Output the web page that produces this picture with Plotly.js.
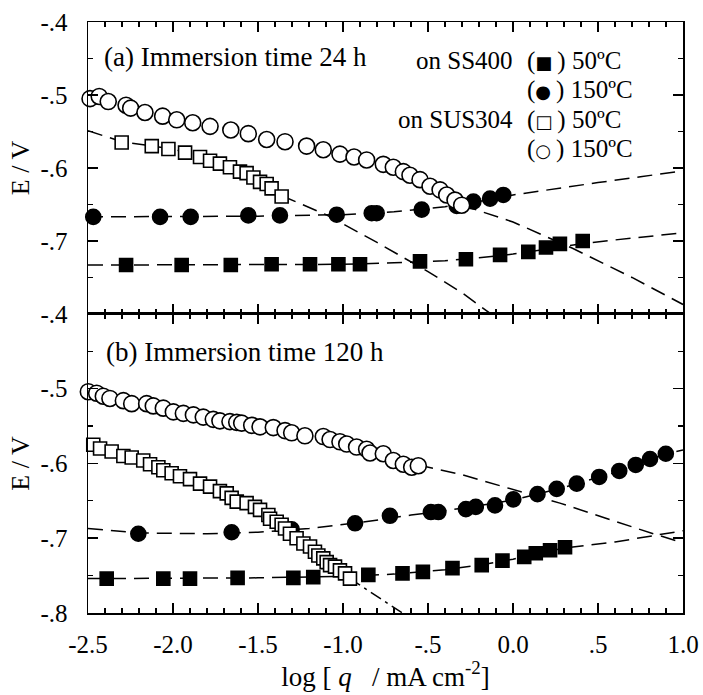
<!DOCTYPE html>
<html>
<head>
<meta charset="utf-8">
<script src="https://cdn.plot.ly/plotly-3.0.1.min.js"></script>
<style>
  html, body { margin: 0; padding: 0; background: #ffffff; }
  #chart { width: 703px; height: 695px; }
</style>
</head>
<body>
<div id="chart"></div>
<script>
// ---------- tick labels ----------
const xTickVals = [-2.5, -2.0, -1.5, -1.0, -0.5, 0.0, 0.5, 1.0];
const xTickText = ['-2.5', '-2.0', '-1.5', '-1.0', '-.5', '0.0', '.5', '1.0'];
const yTickValsTop = [-0.7, -0.6, -0.5, -0.4];
const yTickTextTop = ['-.7', '-.6', '-.5', '-.4'];
const yTickValsBot = [-0.8, -0.7, -0.6, -0.5, -0.4];
const yTickTextBot = ['-.8', '-.7', '-.6', '-.5', '-.4'];

// ---------- (a) Immersion time 24 h ----------
const a_ss400_50_x = [-2.276, -1.949, -1.660, -1.420, -1.194, -1.027, -0.900, -0.547, -0.277, -0.076, 0.090, 0.194, 0.276, 0.410];
const a_ss400_50_y = [-0.733, -0.733, -0.733, -0.732, -0.732, -0.732, -0.732, -0.728, -0.725, -0.719, -0.715, -0.709, -0.704, -0.700];

const a_ss400_150_x = [-2.469, -2.076, -1.896, -1.557, -1.371, -1.037, -0.831, -0.802, -0.537, -0.331, -0.233, -0.135, -0.057];
const a_ss400_150_y = [-0.667, -0.667, -0.667, -0.665, -0.665, -0.664, -0.662, -0.662, -0.657, -0.652, -0.646, -0.642, -0.637];

const a_sus304_50_x = [-2.302, -2.125, -2.027, -1.929, -1.841, -1.782, -1.724, -1.665, -1.606, -1.567, -1.527, -1.488, -1.449, -1.420, -1.361];
const a_sus304_50_y = [-0.565, -0.570, -0.574, -0.579, -0.585, -0.590, -0.594, -0.599, -0.605, -0.607, -0.613, -0.619, -0.622, -0.628, -0.639];

const a_sus304_150_x = [-2.488, -2.434, -2.381, -2.276, -2.249, -2.165, -2.061, -1.978, -1.884, -1.782, -1.660, -1.557, -1.449, -1.341, -1.214, -1.116, -1.018, -0.935, -0.861, -0.763, -0.704, -0.645, -0.606, -0.547, -0.488, -0.429, -0.390, -0.341, -0.302];
const a_sus304_150_y = [-0.505, -0.502, -0.509, -0.514, -0.518, -0.524, -0.529, -0.534, -0.538, -0.543, -0.548, -0.553, -0.561, -0.564, -0.570, -0.575, -0.581, -0.585, -0.589, -0.595, -0.599, -0.605, -0.610, -0.616, -0.625, -0.630, -0.637, -0.644, -0.651];

// fitted curves (a)
const fitA_ss400_50_x = [-2.5, -2.0, -1.5, -1.0, -0.7, -0.4, -0.2, 0.0, 0.2, 0.43, 0.7, 1.0];
const fitA_ss400_50_y = [-0.733, -0.733, -0.733, -0.732, -0.730, -0.727, -0.723, -0.718, -0.711, -0.703, -0.696, -0.689];
const fitA_ss400_150_x = [-2.5, -2.0, -1.5, -1.0, -0.7, -0.4, -0.2, 0.0, 0.25, 0.5, 0.75, 1.0];
const fitA_ss400_150_y = [-0.667, -0.667, -0.666, -0.664, -0.660, -0.653, -0.646, -0.637, -0.628, -0.620, -0.612, -0.604];
const fitA_sus304_50_x = [-2.5, -2.3, -2.0, -1.7, -1.5, -1.361, -1.1, -0.8, -0.5, -0.3, -0.13];
const fitA_sus304_50_y = [-0.549, -0.564, -0.574, -0.594, -0.613, -0.638, -0.664, -0.702, -0.742, -0.771, -0.800];
const fitA_sus304_150_x = [-0.30, 0.0, 0.35, 0.7, 1.0];
const fitA_sus304_150_y = [-0.651, -0.674, -0.710, -0.750, -0.787];

// ---------- (b) Immersion time 120 h ----------
const b_ss400_50_x = [-2.390, -2.057, -1.900, -1.620, -1.292, -1.175, -0.851, -0.650, -0.530, -0.356, -0.184, -0.062, 0.066, 0.134, 0.218, 0.306];
const b_ss400_50_y = [-0.754, -0.754, -0.754, -0.753, -0.753, -0.752, -0.749, -0.747, -0.745, -0.740, -0.736, -0.730, -0.725, -0.720, -0.716, -0.712];

const b_ss400_150_x = [-2.204, -1.655, -1.302, -0.929, -0.724, -0.483, -0.439, -0.277, -0.219, -0.106, 0.002, 0.144, 0.257, 0.375, 0.507, 0.625, 0.722, 0.806, 0.899];
const b_ss400_150_y = [-0.694, -0.692, -0.688, -0.680, -0.670, -0.665, -0.665, -0.661, -0.658, -0.656, -0.648, -0.641, -0.634, -0.627, -0.618, -0.610, -0.602, -0.594, -0.587];

const b_sus304_50_x = [-2.469, -2.429, -2.361, -2.292, -2.243, -2.175, -2.135, -2.086, -2.057, -2.008, -1.959, -1.900, -1.841, -1.782, -1.724, -1.684, -1.655, -1.625, -1.567, -1.518, -1.488, -1.439, -1.429, -1.390, -1.361, -1.341, -1.312, -1.273, -1.233, -1.194, -1.165, -1.145, -1.116, -1.096, -1.076, -1.047, -1.018, -0.988, -0.959];
const b_sus304_50_y = [-0.575, -0.580, -0.584, -0.590, -0.592, -0.596, -0.601, -0.605, -0.609, -0.613, -0.617, -0.621, -0.627, -0.631, -0.637, -0.640, -0.646, -0.651, -0.653, -0.658, -0.662, -0.669, -0.674, -0.678, -0.682, -0.687, -0.694, -0.700, -0.707, -0.711, -0.718, -0.723, -0.727, -0.732, -0.736, -0.738, -0.743, -0.747, -0.754];

const b_sus304_150_x = [-2.498, -2.449, -2.410, -2.371, -2.292, -2.243, -2.155, -2.116, -2.057, -1.998, -1.939, -1.880, -1.822, -1.763, -1.724, -1.665, -1.625, -1.596, -1.537, -1.488, -1.410, -1.341, -1.302, -1.224, -1.116, -1.076, -1.018, -0.978, -0.920, -0.861, -0.841, -0.763, -0.704, -0.645, -0.596, -0.557];
const b_sus304_150_y = [-0.504, -0.506, -0.510, -0.513, -0.516, -0.520, -0.520, -0.523, -0.526, -0.531, -0.533, -0.535, -0.538, -0.541, -0.543, -0.544, -0.545, -0.546, -0.549, -0.551, -0.552, -0.556, -0.559, -0.563, -0.564, -0.568, -0.571, -0.574, -0.578, -0.581, -0.586, -0.587, -0.596, -0.601, -0.605, -0.603];

// fitted curves (b)
const fitB_ss400_50_x = [-2.5, -2.0, -1.5, -1.0, -0.7, -0.4, -0.2, 0.0, 0.3, 0.6, 0.85, 1.0];
const fitB_ss400_50_y = [-0.754, -0.754, -0.753, -0.751, -0.748, -0.742, -0.736, -0.728, -0.713, -0.705, -0.696, -0.690];
const fitB_ss400_150_x = [-2.5, -2.2, -1.8, -1.5, -1.2, -0.9, -0.6, -0.3, 0.0, 0.3, 0.6, 0.9, 1.0];
const fitB_ss400_150_y = [-0.687, -0.693, -0.694, -0.692, -0.687, -0.679, -0.669, -0.660, -0.649, -0.632, -0.612, -0.587, -0.582];
const fitB_sus304_50_x = [-0.959, -0.63];
const fitB_sus304_50_y = [-0.754, -0.803];
const fitB_sus304_150_x = [-0.557, -0.3, 0.276, 0.825, 1.0];
const fitB_sus304_150_y = [-0.602, -0.615, -0.653, -0.694, -0.706];

// ---------- styling ----------
const FONT = 'Liberation Serif, Times New Roman, serif';
const DASH = '15px,8px';

function fit(x, y, xa, ya, dash) {
  return { x: x, y: y, xaxis: xa, yaxis: ya, type: 'scatter', mode: 'lines',
           line: { color: '#000', width: 1.5, dash: dash || DASH }, hoverinfo: 'skip', showlegend: false };
}
function pts(x, y, xa, ya, symbol, filled, size) {
  return { x: x, y: y, xaxis: xa, yaxis: ya, type: 'scatter', mode: 'markers', cliponaxis: false,
           marker: { symbol: symbol, size: size, color: filled ? '#000' : '#fff',
                     line: { color: '#000', width: 1.6 } }, showlegend: false };
}

const traces = [
  fit(fitA_ss400_50_x, fitA_ss400_50_y, 'x2', 'y2'),
  fit(fitA_ss400_150_x, fitA_ss400_150_y, 'x2', 'y2'),
  fit(fitA_sus304_50_x, fitA_sus304_50_y, 'x2', 'y2'),
  fit(fitA_sus304_150_x, fitA_sus304_150_y, 'x2', 'y2'),
  fit(fitB_ss400_50_x, fitB_ss400_50_y, 'x', 'y'),
  fit(fitB_ss400_150_x, fitB_ss400_150_y, 'x', 'y'),
  fit(fitB_sus304_150_x, fitB_sus304_150_y, 'x', 'y'),
  fit(fitB_sus304_50_x, fitB_sus304_50_y, 'x', 'y', '12px,5px,3px,5px'),
  pts(a_ss400_50_x, a_ss400_50_y, 'x2', 'y2', 'square', true, 13),
  pts(a_ss400_150_x, a_ss400_150_y, 'x2', 'y2', 'circle', true, 15),
  pts(a_sus304_50_x, a_sus304_50_y, 'x2', 'y2', 'square', false, 13),
  pts(a_sus304_150_x, a_sus304_150_y, 'x2', 'y2', 'circle', false, 16),
  pts(b_ss400_50_x, b_ss400_50_y, 'x', 'y', 'square', true, 13),
  pts(b_ss400_150_x, b_ss400_150_y, 'x', 'y', 'circle', true, 15),
  pts(b_sus304_50_x, b_sus304_50_y, 'x', 'y', 'square', false, 13),
  pts(b_sus304_150_x, b_sus304_150_y, 'x', 'y', 'circle', false, 16)
];

const axCommon = {
  showline: true, linecolor: '#000', linewidth: 1.5, mirror: 'allticks',
  ticks: 'inside', ticklen: 10, tickwidth: 1.5, tickcolor: '#000',
  showgrid: false, zeroline: false,
  tickfont: { family: FONT, size: 25, color: '#000' }
};
const MINOR_X = { tickmode: 'linear', tick0: -2.5, dtick: 0.1, ticks: 'inside', ticklen: 5, tickwidth: 1.2, tickcolor: '#000' };
const MINOR_Y = { tickmode: 'linear', tick0: -0.8, dtick: 0.05, ticks: 'inside', ticklen: 5, tickwidth: 1.2, tickcolor: '#000' };

const SYM = (s) => '<span style="font-family:DejaVu Sans;font-size:18px">' + s + '</span>';
const LEG_FONT = { family: FONT, size: 25 };

const layout = {
  width: 703, height: 695,
  margin: { l: 88, r: 20, t: 22, b: 82 },
  paper_bgcolor: '#fff', plot_bgcolor: '#fff',
  font: { family: FONT, color: '#000', size: 25 },
  showlegend: false,
  xaxis: Object.assign({}, axCommon, {
    anchor: 'y', domain: [0, 1], range: [-2.5, 1.0],
    tickmode: 'array', tickvals: xTickVals, ticktext: xTickText,
    minor: MINOR_X,
    ticklabelstandoff: 8,
    title: { text: 'log [ <i>q</i>\u00A0\u00A0\u00A0/ mA cm<sup>-2</sup>]', font: { family: FONT, size: 27 }, standoff: 10 }
  }),
  xaxis2: Object.assign({}, axCommon, {
    anchor: 'y2', domain: [0, 1], range: [-2.5, 1.0], matches: 'x',
    tickmode: 'array', tickvals: xTickVals, ticktext: xTickText, showticklabels: false,
    minor: MINOR_X
  }),
  yaxis: Object.assign({}, axCommon, {
    anchor: 'x', domain: [0, 0.506], range: [-0.8, -0.4],
    tickmode: 'array', tickvals: yTickValsBot, ticktext: yTickTextBot,
    minor: MINOR_Y,
    ticklabelstandoff: 14,
    title: { text: 'E / V', font: { family: FONT, size: 26 }, standoff: 3 }
  }),
  yaxis2: Object.assign({}, axCommon, {
    anchor: 'x2', domain: [0.506, 1], range: [-0.8, -0.4],
    tickmode: 'array', tickvals: yTickValsTop, ticktext: yTickTextTop,
    minor: MINOR_Y,
    ticklabelstandoff: 14,
    title: { text: 'E / V', font: { family: FONT, size: 26 }, standoff: 3 }
  }),
  annotations: [
    { xref: 'x2', yref: 'y2', x: -2.418, y: -0.448, xanchor: 'left', yanchor: 'middle', showarrow: false,
      text: '(a) Immersion time 24 h', font: { family: FONT, size: 27 } },
    { xref: 'x', yref: 'y', x: -2.406, y: -0.451, xanchor: 'left', yanchor: 'middle', showarrow: false,
      text: '(b) Immersion time 120 h', font: { family: FONT, size: 27 } },
    { xref: 'x2', yref: 'y2', x: 0.012, y: -0.453, xanchor: 'right', yanchor: 'middle', showarrow: false,
      text: 'on SS400', font: LEG_FONT },
    { xref: 'x2', yref: 'y2', x: 0.071, y: -0.453, xanchor: 'left', yanchor: 'middle', showarrow: false,
      text: '(' + SYM('■') + '\u2009) 50ºC', font: LEG_FONT },
    { xref: 'x2', yref: 'y2', x: 0.071, y: -0.4925, xanchor: 'left', yanchor: 'middle', showarrow: false,
      text: '(' + SYM('●') + '\u2009) 150ºC', font: LEG_FONT },
    { xref: 'x2', yref: 'y2', x: 0.012, y: -0.534, xanchor: 'right', yanchor: 'middle', showarrow: false,
      text: 'on SUS304', font: LEG_FONT },
    { xref: 'x2', yref: 'y2', x: 0.071, y: -0.534, xanchor: 'left', yanchor: 'middle', showarrow: false,
      text: '(' + SYM('□') + '\u2009) 50ºC', font: LEG_FONT },
    { xref: 'x2', yref: 'y2', x: 0.071, y: -0.574, xanchor: 'left', yanchor: 'middle', showarrow: false,
      text: '(' + SYM('○') + '\u2009) 150ºC', font: LEG_FONT }
  ]
};

Plotly.newPlot('chart', traces, layout, { displayModeBar: false, staticPlot: true });
</script>
</body>
</html>
